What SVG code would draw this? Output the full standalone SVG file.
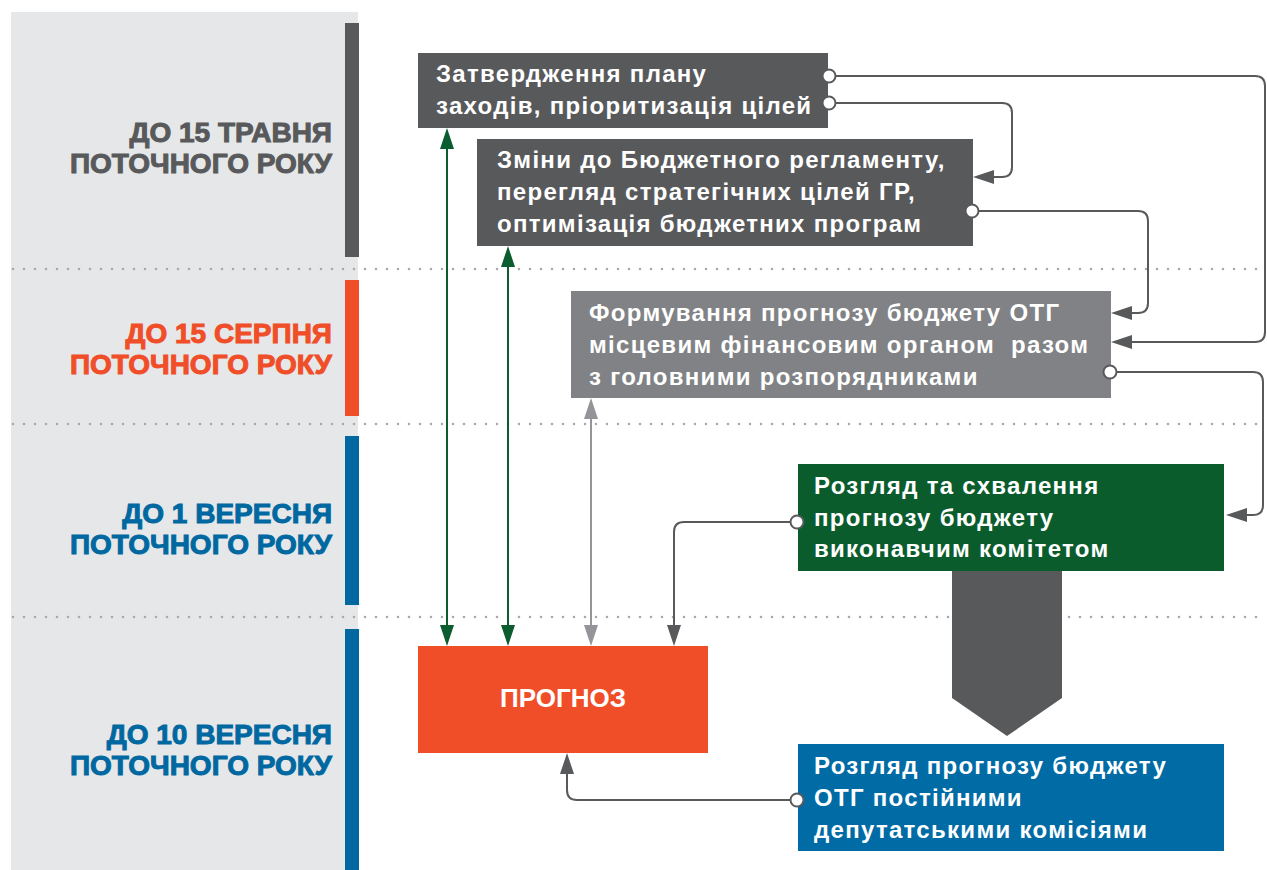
<svg xmlns="http://www.w3.org/2000/svg" width="1267" height="870" viewBox="0 0 1267 870">
<style>
.lbl{font-family:"Liberation Sans",Arial,sans-serif;font-weight:bold;font-size:28px;text-anchor:end;stroke-width:1px}
.bt{font-family:"Liberation Sans",Arial,sans-serif;font-weight:bold;font-size:24px;fill:#ffffff;letter-spacing:1.3px;white-space:pre}
.dot{stroke:#a7a9ac;stroke-width:2.6;stroke-linecap:round;stroke-dasharray:0 11;fill:none}
.cn{fill:none;stroke:#58595b;stroke-width:2}
.cg{fill:none;stroke:#0b5c2e;stroke-width:2}
.cl{fill:none;stroke:#939598;stroke-width:2}
.pin{fill:#ffffff;stroke:#58595b;stroke-width:2}
</style>
<defs>
<marker id="ad" markerUnits="userSpaceOnUse" markerWidth="22" markerHeight="14" refX="11" refY="7" orient="auto-start-reverse"><path d="M0,0 L21,7 L0,14 z" fill="#58595b"/></marker>
<marker id="ag" markerUnits="userSpaceOnUse" markerWidth="22" markerHeight="14" refX="11" refY="7" orient="auto-start-reverse"><path d="M0,0 L21,7 L0,14 z" fill="#0b5c2e"/></marker>
<marker id="al" markerUnits="userSpaceOnUse" markerWidth="22" markerHeight="14" refX="11" refY="7" orient="auto-start-reverse"><path d="M0,0 L21,7 L0,14 z" fill="#939598"/></marker>
</defs>
<rect width="1267" height="870" fill="#ffffff"/>
<g id="timeline">
<rect x="11" y="12" width="347" height="858" fill="#e6e7e8"/>
<rect x="345" y="23" width="14" height="234" fill="#58595b"/>
<rect x="345" y="280" width="14" height="136" fill="#f04e28"/>
<rect x="345" y="436" width="14" height="169" fill="#0068a1"/>
<rect x="345" y="629" width="14" height="241" fill="#0068a1"/>
<line class="dot" x1="13" y1="269" x2="1267" y2="269"/>
<line class="dot" x1="13" y1="424" x2="1267" y2="424"/>
<line class="dot" x1="13" y1="617" x2="1267" y2="617"/>
<text class="lbl" fill="#58595b" stroke="#58595b"><tspan x="332" y="142">ДО 15 ТРАВНЯ</tspan><tspan x="332" y="173">ПОТОЧНОГО РОКУ</tspan></text>
<text class="lbl" fill="#f04e28" stroke="#f04e28"><tspan x="332" y="343">ДО 15 СЕРПНЯ</tspan><tspan x="332" y="374">ПОТОЧНОГО РОКУ</tspan></text>
<text class="lbl" fill="#0068a1" stroke="#0068a1"><tspan x="332" y="523">ДО 1 ВЕРЕСНЯ</tspan><tspan x="332" y="554">ПОТОЧНОГО РОКУ</tspan></text>
<text class="lbl" fill="#0068a1" stroke="#0068a1"><tspan x="332" y="744">ДО 10 ВЕРЕСНЯ</tspan><tspan x="332" y="775">ПОТОЧНОГО РОКУ</tspan></text>
</g>
<g id="node-plan">
<rect x="418" y="53" width="410" height="75" fill="#58595b"/>
<text class="bt"><tspan x="436" y="82">Затвердження плану</tspan><tspan x="436" y="114">заходів, пріоритизація цілей</tspan></text>
</g>
<g id="node-reglament">
<rect x="477" y="139" width="496" height="107" fill="#58595b"/>
<text class="bt"><tspan x="497" y="168">Зміни до Бюджетного регламенту,</tspan><tspan x="497" y="200">перегляд стратегічних цілей ГР,</tspan><tspan x="497" y="232">оптимізація бюджетних програм</tspan></text>
</g>
<g id="node-formuvannia">
<rect x="571" y="291" width="540" height="107" fill="#808285"/>
<text class="bt"><tspan x="589" y="321">Формування прогнозу бюджету ОТГ</tspan><tspan x="589" y="353">місцевим фінансовим органом  разом</tspan><tspan x="589" y="385">з головними розпорядниками</tspan></text>
</g>
<g id="node-vykonkom">
<rect x="798" y="464" width="426" height="107" fill="#0a5c2d"/>
<text class="bt"><tspan x="814" y="494">Розгляд та схвалення</tspan><tspan x="814" y="526">прогнозу бюджету</tspan><tspan x="814" y="557">виконавчим комітетом</tspan></text>
</g>
<g id="node-komisii">
<rect x="798" y="744" width="426" height="107" fill="#006ba4"/>
<text class="bt"><tspan x="814" y="774">Розгляд прогнозу бюджету</tspan><tspan x="814" y="806">ОТГ постійними</tspan><tspan x="814" y="838">депутатськими комісіями</tspan></text>
</g>
<g id="node-prognoz">
<rect x="418" y="646" width="290" height="107" fill="#f04e28"/>
<text x="563" y="707" text-anchor="middle" font-family="Liberation Sans, Arial, sans-serif" font-weight="bold" font-size="26" fill="#ffffff">ПРОГНОЗ</text>
</g>
<g id="connectors">
<path class="cg" d="M447,138 V636" marker-start="url(#ag)" marker-end="url(#ag)"/>
<path class="cg" d="M508,256 V636" marker-start="url(#ag)" marker-end="url(#ag)"/>
<path class="cl" d="M591,408 V636" marker-start="url(#al)" marker-end="url(#al)"/>
<path class="cn" d="M797,522 H684 Q674,522 674,532 V636" marker-end="url(#ad)"/>
<path class="cn" d="M797,800 H577 Q567,800 567,790 V763" marker-end="url(#ad)"/>
<path class="cn" d="M829,76 H1255 Q1265,76 1265,86 V332 Q1265,342 1255,342 H1121" marker-end="url(#ad)"/>
<path class="cn" d="M829,103 H1002 Q1012,103 1012,113 V167 Q1012,177 1002,177 H983" marker-end="url(#ad)"/>
<path class="cn" d="M972,211 H1138 Q1148,211 1148,221 V303 Q1148,313 1138,313 H1121" marker-end="url(#ad)"/>
<path class="cn" d="M1110,372 H1253 Q1263,372 1263,382 V505 Q1263,515 1253,515 H1236" marker-end="url(#ad)"/>
<polygon points="952,571 1062,571 1062,698 1007,736 952,698" fill="#58595b"/>
<circle class="pin" cx="829" cy="76" r="6.5"/>
<circle class="pin" cx="829" cy="103" r="6.5"/>
<circle class="pin" cx="972" cy="211" r="6.5"/>
<circle class="pin" cx="1110" cy="372" r="6.5"/>
<circle class="pin" cx="797" cy="522" r="6.5"/>
<circle class="pin" cx="797" cy="800" r="6.5"/>
</g>
</svg>
